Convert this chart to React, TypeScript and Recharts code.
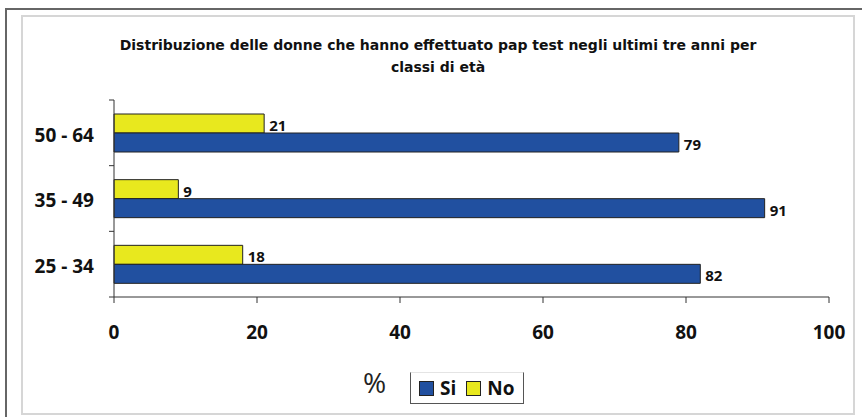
import { BarChart, Bar, XAxis, YAxis, LabelList } from 'recharts';

// age classes, top to bottom as in the picture
const ageClasses = ['50 - 64', '35 - 49', '25 - 34'];
const siValues = [79, 91, 82];
const noValues = [21, 9, 18];
const xTicks = [0, 20, 40, 60, 80, 100];

const BLUE = '#2150a0';
const YELLOW = '#e8e81e';
const FONT = '"Open Sans", "Liberation Sans", sans-serif';
const TITLE_FONT = '"DejaVu Sans", Verdana, sans-serif';

const data = ageClasses.map((age, i) => ({
    age,
    si: siValues[i],
    no: noValues[i],
}));

// category label plus small tick marks on the band edges (like the Excel original)
function AgeTick(props: any) {
    const { x, y, payload, index } = props;
    const half = payload?.offset ?? 33;
    const axisX = x + 20;
    return (
        <g>
            <line x1={axisX - 5} x2={axisX} y1={y - half} y2={y - half} stroke="#333" />
            {index === ageClasses.length - 1 && (
                <line x1={axisX - 5} x2={axisX} y1={y + half} y2={y + half} stroke="#333" />
            )}
            <text
                x={x}
                y={y + 2}
                dy="0.36em"
                textAnchor="end"
                fontFamily={FONT}
                fontWeight={700}
                fontSize={19}
                fill="#111"
            >
                {payload.value}
            </text>
        </g>
    );
}

function ValueLabel(props: any) {
    const { x, y, width, height, value } = props;
    return (
        <text
            x={x + width + 5}
            y={y + height / 2 + 2}
            dy="0.36em"
            fontFamily={FONT}
            fontWeight={700}
            fontSize={15}
            fill="#111"
        >
            {value}
        </text>
    );
}

function Swatch({ color }: { color: string }) {
    return (
        <span
            style={{
                display: 'inline-block',
                width: 13,
                height: 13,
                background: color,
                border: '1px solid #222',
                marginRight: 6,
                verticalAlign: 'middle',
            }}
        />
    );
}

export default function App() {
    return (
        <div
            style={{
                position: 'absolute',
                left: 0,
                top: 0,
                width: 862,
                height: 417,
                overflow: 'hidden',
                background: '#fff',
                fontFamily: FONT,
            }}
        >
            {/* outer and inner frames */}
            <div
                style={{
                    position: 'absolute',
                    left: 5,
                    top: 8,
                    width: 900,
                    height: 450,
                    border: '2px solid #666',
                    boxSizing: 'border-box',
                }}
            />
            <div
                style={{
                    position: 'absolute',
                    left: 21,
                    top: 15,
                    width: 834,
                    height: 400,
                    border: '2px solid #d6d6d6',
                    boxSizing: 'border-box',
                }}
            />

            <div
                style={{
                    position: 'absolute',
                    left: 22,
                    top: 34,
                    width: 832,
                    textAlign: 'center',
                    fontFamily: TITLE_FONT,
                    fontWeight: 700,
                    fontSize: 14,
                    lineHeight: '22px',
                    color: '#111',
                    whiteSpace: 'nowrap',
                }}
            >
                Distribuzione delle donne che hanno effettuato pap test negli ultimi tre anni per
                <br />
                classi di età
            </div>

            <div style={{ position: 'absolute', left: 0, top: 0 }}>
                <BarChart
                    width={862}
                    height={417}
                    data={data}
                    layout="vertical"
                    margin={{ top: 100, right: 33, bottom: 80, left: 14 }}
                    barGap={0}
                >
                    <XAxis
                        type="number"
                        domain={[0, 100]}
                        ticks={xTicks}
                        height={40}
                        tickSize={6}
                        tickMargin={23}
                        stroke="#333"
                        tick={{ fill: '#111', fontSize: 19, fontWeight: 700, fontFamily: FONT }}
                    />
                    <YAxis
                        type="category"
                        dataKey="age"
                        width={100}
                        tickLine={false}
                        tickSize={0}
                        tickMargin={20}
                        stroke="#333"
                        tick={<AgeTick />}
                    />
                    <Bar dataKey="no" fill={YELLOW} stroke="#222" strokeWidth={1} barSize={19} isAnimationActive={false}>
                        <LabelList dataKey="no" content={<ValueLabel />} />
                    </Bar>
                    <Bar dataKey="si" fill={BLUE} stroke="#222" strokeWidth={1} barSize={19} isAnimationActive={false}>
                        <LabelList dataKey="si" content={<ValueLabel />} />
                    </Bar>
                </BarChart>
            </div>

            {/* axis unit and legend */}
            <div
                style={{
                    position: 'absolute',
                    left: 363,
                    top: 364,
                    fontSize: 28,
                    lineHeight: '36px',
                    fontWeight: 400,
                    color: '#222',
                }}
            >
                %
            </div>
            <div
                style={{
                    position: 'absolute',
                    left: 410,
                    top: 372,
                    width: 114,
                    height: 32,
                    borderLeft: '1px solid #555',
                    borderRight: '1px solid #555',
                    borderBottom: '1px solid #555',
                    borderTop: '1px solid #e4e4e4',
                    boxSizing: 'border-box',
                    display: 'flex',
                    alignItems: 'center',
                    paddingLeft: 8,
                    fontWeight: 700,
                    fontSize: 19,
                    color: '#111',
                }}
            >
                <Swatch color={BLUE} />
                <span style={{ marginRight: 10 }}>Si</span>
                <Swatch color={YELLOW} />
                <span>No</span>
            </div>
        </div>
    );
}
